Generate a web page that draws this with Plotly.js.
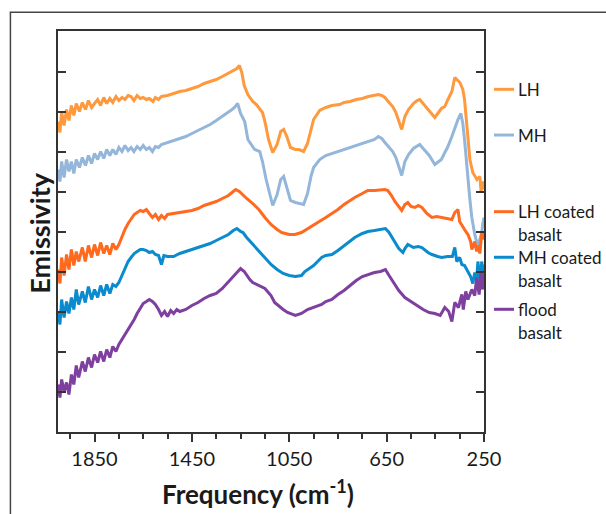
<!DOCTYPE html>
<html>
<head>
<meta charset="utf-8">
<script src="https://cdn.plot.ly/plotly-3.0.1.min.js"></script>
<style>html,body{margin:0;padding:0;background:#fff;}#chart{width:606px;height:514px;}</style>
</head>
<body>
<div id="chart"></div>
<script>
// Frequency (cm-1) vs relative emissivity (arbitrary offset units)
const lhData = [[2000,310],[1992,299],[1985,320],[1975,306],[1965,322],[1955,311],[1945,326],[1935,316],[1925,328],[1912,320],[1900,329],[1887,322],[1875,331],[1862,324],[1850,328],[1837,332],[1825,326],[1812,334],[1800,328],[1787,333],[1775,329],[1762,335],[1750,331],[1737,334],[1725,332],[1712,336],[1700,335],[1688,331],[1675,336],[1662,333],[1650,334],[1637,332],[1625,333],[1610,330],[1600,334],[1587,332],[1575,335],[1550,336],[1525,338],[1500,340],[1475,341],[1450,343],[1425,345],[1400,348],[1375,350],[1350,352],[1325,355],[1300,358],[1275,361],[1265,363],[1255,366],[1245,359],[1235,346],[1220,337],[1200,330],[1185,327],[1160,319],[1150,310],[1135,292],[1118,279],[1100,287],[1085,300],[1073,302],[1060,295],[1045,284],[1025,282],[1010,282],[991,280],[975,288],[960,304],[950,312],[925,321],[900,324],[875,326],[843,327],[825,329],[800,330],[775,332],[750,333],[725,335],[700,336],[684,337],[670,336],[657,334],[640,329],[625,325],[612,319],[600,310],[588,302],[575,315],[560,322],[540,328],[525,331],[514,332],[500,328],[475,321],[452,314],[425,323],[411,325],[400,331],[382,340],[370,354],[360,352],[349,349],[337,342],[330,332],[320,305],[308,272],[296,259],[279,252],[267,255],[262,240],[255,250],[250,242]];

const mhData = [[2000,262],[1992,250],[1985,270],[1975,254],[1965,272],[1955,260],[1945,270],[1935,258],[1925,272],[1912,264],[1900,274],[1887,266],[1875,276],[1862,268],[1850,278],[1837,272],[1825,280],[1812,273],[1800,282],[1787,276],[1775,282],[1762,277],[1750,284],[1737,280],[1725,286],[1712,281],[1700,284],[1688,280],[1675,285],[1662,282],[1650,286],[1637,282],[1625,284],[1612,280],[1600,285],[1587,284],[1575,287],[1550,289],[1525,291],[1500,293],[1475,295],[1450,298],[1425,301],[1400,304],[1375,307],[1350,311],[1325,315],[1300,319],[1285,322],[1275,324],[1262,328],[1250,318],[1233,310],[1220,292],[1192,282],[1171,280],[1160,270],[1145,252],[1118,226],[1100,237],[1085,252],[1073,255],[1060,244],[1045,231],[1025,229],[1010,228],[991,227],[975,238],[960,256],[950,264],[925,272],[900,276],[875,278],[843,280],[825,282],[800,284],[775,286],[750,288],[725,290],[700,292],[684,295],[670,293],[657,289],[640,284],[625,280],[612,274],[600,266],[588,256],[575,270],[560,277],[540,283],[525,285],[514,287],[500,283],[475,276],[452,267],[425,272],[411,279],[400,284],[382,295],[370,304],[357,312],[345,318],[337,308],[330,292],[320,262],[308,232],[300,214],[288,197],[275,185],[267,192],[259,199],[255,208],[250,214]];

const lhCoatedData = [[2000,162],[1992,148],[1985,174],[1975,156],[1965,177],[1955,162],[1945,182],[1935,166],[1925,180],[1915,170],[1900,184],[1888,170],[1875,186],[1862,174],[1850,187],[1837,176],[1825,189],[1812,178],[1800,186],[1787,177],[1775,188],[1762,182],[1750,187],[1737,195],[1725,202],[1712,208],[1700,212],[1687,217],[1675,219],[1662,221],[1650,220],[1637,222],[1625,218],[1612,214],[1600,217],[1587,212],[1575,216],[1562,213],[1550,217],[1525,218],[1500,219],[1475,220],[1450,221],[1425,223],[1400,226],[1375,228],[1350,230],[1325,233],[1300,236],[1285,239],[1270,242],[1255,240],[1240,236],[1225,233],[1200,228],[1175,222],[1150,214],[1125,207],[1100,202],[1081,199],[1050,197],[1027,197],[1000,199],[986,201],[950,206],[917,211],[900,214],[875,218],[850,222],[825,227],[800,231],[781,234],[750,238],[727,241],[700,241],[675,242],[657,242],[645,241],[630,236],[616,230],[600,225],[588,221],[575,227],[563,229],[550,225],[534,224],[520,226],[505,224],[485,218],[464,214],[444,215],[424,214],[400,213],[382,212],[370,219],[357,222],[350,210],[337,204],[325,200],[316,197],[305,190],[300,182],[288,190],[280,180],[275,186],[267,178],[259,199],[255,192],[250,200]];

const mhCoatedData = [[2000,120],[1992,107],[1985,132],[1975,114],[1965,130],[1955,118],[1945,134],[1935,122],[1925,142],[1915,127],[1900,140],[1888,129],[1875,145],[1862,132],[1850,142],[1837,134],[1825,146],[1812,136],[1800,147],[1787,138],[1775,147],[1762,145],[1750,149],[1737,156],[1725,164],[1712,170],[1700,174],[1687,178],[1675,180],[1662,182],[1650,182],[1637,181],[1625,179],[1612,180],[1600,177],[1587,176],[1575,167],[1565,176],[1550,175],[1525,175],[1500,178],[1475,180],[1450,182],[1425,184],[1400,186],[1375,188],[1350,191],[1325,194],[1300,197],[1280,201],[1265,203],[1250,200],[1240,199],[1225,194],[1200,187],[1175,180],[1150,174],[1125,167],[1100,162],[1075,158],[1050,156],[1025,155],[1000,156],[986,160],[950,166],[917,174],[900,176],[875,177],[850,181],[825,186],[800,191],[781,194],[750,198],[727,200],[700,201],[675,202],[655,203],[640,199],[616,189],[600,183],[583,179],[575,183],[563,187],[540,184],[520,185],[505,184],[480,179],[464,177],[440,175],[424,174],[400,175],[380,175],[370,184],[362,170],[350,174],[341,167],[330,166],[316,159],[305,155],[296,148],[288,159],[280,153],[275,170],[267,150],[259,170],[255,156],[250,167]];

const floodData = [[2000,47],[1992,34],[1985,52],[1975,40],[1965,49],[1955,37],[1945,57],[1935,47],[1925,66],[1915,54],[1900,70],[1888,60],[1875,74],[1862,64],[1850,77],[1837,69],[1825,80],[1812,70],[1800,82],[1787,74],[1775,85],[1762,80],[1750,87],[1737,92],[1725,96],[1712,102],[1700,106],[1687,112],[1675,118],[1662,124],[1650,128],[1637,130],[1625,132],[1612,130],[1600,127],[1587,122],[1575,116],[1562,120],[1550,115],[1537,121],[1525,118],[1512,122],[1500,120],[1475,122],[1450,126],[1425,129],[1400,133],[1375,136],[1350,138],[1325,143],[1300,150],[1275,157],[1250,163],[1235,160],[1225,156],[1212,152],[1200,149],[1175,146],[1150,143],[1125,136],[1110,129],[1075,122],[1057,119],[1025,116],[1000,118],[975,122],[950,124],[917,127],[900,130],[875,132],[850,137],[825,141],[800,146],[775,151],[750,155],[725,157],[700,159],[675,160],[655,162],[640,156],[616,147],[600,141],[575,134],[550,130],[534,127],[500,122],[475,119],[452,118],[430,116],[411,124],[395,120],[382,110],[370,129],[355,124],[341,137],[335,122],[325,140],[316,132],[300,142],[288,136],[280,154],[270,137],[262,160],[255,142],[250,157]];

const seriesNames = ['LH', 'MH', 'LH coated basalt', 'MH coated basalt', 'flood basalt'];
const legendLines = [['LH'], ['MH'], ['LH coated', 'basalt'], ['MH coated', 'basalt'], ['flood', 'basalt']];
const seriesColors = ['#FF993D', '#93B6DA', '#FF6A1F', '#0B8BCD', '#7E3F9F'];
const seriesData = [lhData, mhData, lhCoatedData, mhCoatedData, floodData];
const xTickLabels = ['1850', '1450', '1050', '650', '250'];

const FONT = 'Lato, "Open Sans", "DejaVu Sans", sans-serif';
const TXT = '#1a1a1a';
const AX = '#333333';

const traces = seriesData.map((d, i) => ({
  type: 'scatter', mode: 'lines', name: seriesNames[i],
  x: d.map(p => p[0]), y: d.map(p => p[1]),
  line: {color: seriesColors[i], width: 3},
  hoverinfo: 'skip'
}));

// legend layout (paper coordinates)
const legendY = [[0.8546], [0.7406], [0.5494, 0.4930], [0.4357, 0.3790], [0.3060, 0.2476]];
const shapes = [{
  type: 'rect', xref: 'paper', yref: 'paper',
  x0: -0.1117, x1: 1.6, y0: -0.6, y1: 1.0466,
  line: {color: '#444', width: 1.5}, fillcolor: 'rgba(0,0,0,0)', layer: 'below'
}];
const annotations = [];
legendLines.forEach((lines, i) => {
  shapes.push({type: 'line', xref: 'paper', yref: 'paper', x0: 1.0235, x1: 1.0704,
    y0: legendY[i][0], y1: legendY[i][0], line: {color: seriesColors[i], width: 3}});
  lines.forEach((t, j) => annotations.push({
    xref: 'paper', yref: 'paper', x: 1.0744, y: legendY[i][j], xanchor: 'left', yanchor: 'middle',
    text: t, showarrow: false, font: {family: FONT, size: 17, color: TXT}
  }));
});
annotations.push({
  xref: 'paper', yref: 'paper', x: 0.4695, y: -0.152, xanchor: 'center', yanchor: 'middle',
  text: '<b>Frequency (cm<sup>-1</sup>)</b>', showarrow: false,
  font: {family: FONT, size: 26, color: TXT}
});
annotations.push({
  xref: 'paper', yref: 'paper', x: -0.0455, y: 0.496, xanchor: 'center', yanchor: 'middle',
  text: '<b>Emissivity</b>', textangle: -90, showarrow: false,
  font: {family: FONT, size: 27, color: TXT}
});

const layout = {
  width: 606, height: 514,
  margin: {l: 58, r: 122, t: 31, b: 82},
  paper_bgcolor: '#ffffff', plot_bgcolor: '#ffffff',
  showlegend: false,
  font: {family: FONT, color: TXT},
  xaxis: {
    range: [2000, 250], autorange: false,
    tickmode: 'array', tickvals: xTickLabels.map(Number), ticktext: xTickLabels,
    ticks: 'outside', ticklen: 8, tickwidth: 2, tickcolor: AX,
    showline: true, linecolor: AX, linewidth: 2, mirror: true,
    showgrid: false, zeroline: false,
    tickfont: {family: FONT, size: 20, color: TXT},
    minor: {tickmode: 'linear', tick0: 250, dtick: 100, ticks: 'outside', ticklen: 5, tickwidth: 2, tickcolor: AX, showgrid: false}
  },
  yaxis: {
    range: [-0.5, 400.5], autorange: false,
    tickmode: 'linear', tick0: 0, dtick: 40,
    ticks: 'inside', ticklen: 8, tickwidth: 2, tickcolor: AX,
    showline: true, linecolor: AX, linewidth: 2, mirror: 'ticks',
    showticklabels: false, showgrid: false, zeroline: false
  },
  shapes: shapes,
  annotations: annotations
};

Plotly.newPlot('chart', traces, layout, {staticPlot: true, displayModeBar: false});
</script>
</body>
</html>
